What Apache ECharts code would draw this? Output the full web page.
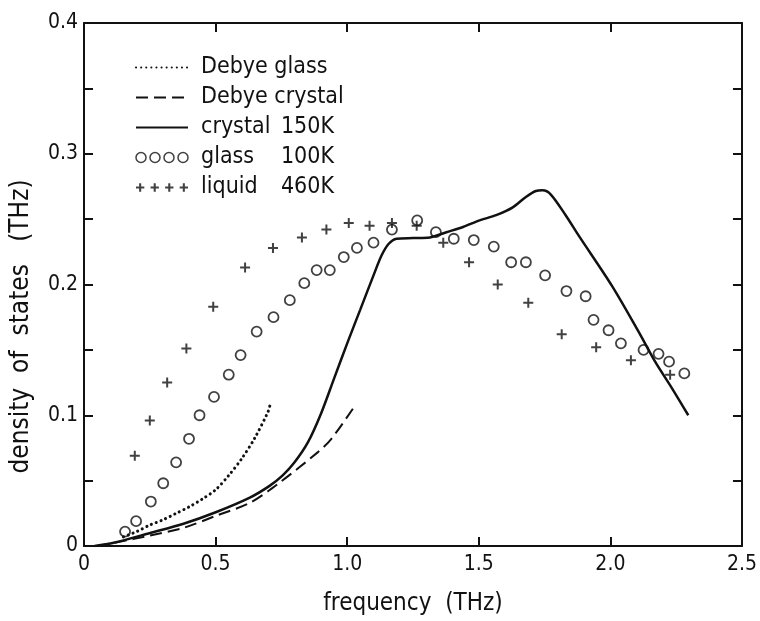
<!DOCTYPE html>
<html>
<head>
<meta charset="utf-8">
<script src="https://cdn.jsdelivr.net/npm/echarts@6/dist/echarts.min.js"></script>
<style>
  html, body { margin: 0; padding: 0; background: #fff; }
  #chart { width: 760px; height: 621px; }
</style>
</head>
<body>
<div id="chart"></div>
<script>
// curves and points (frequency in THz, density of states)
var debyeGlass = [[0.15, 0.007], [0.2, 0.011], [0.25, 0.016], [0.3, 0.020], [0.35, 0.025], [0.4, 0.030],
    [0.45, 0.036], [0.5, 0.043], [0.55, 0.054], [0.6, 0.067], [0.65, 0.083], [0.7, 0.103], [0.707, 0.108]];
var debyeCrystal = [[0.05, 0.0], [0.13, 0.003], [0.25, 0.008], [0.38, 0.014], [0.5, 0.023], [0.63, 0.033],
    [0.74, 0.048], [0.89, 0.072], [0.94, 0.082], [1.025, 0.106]];
var crystal150 = [[0.04, 0.0], [0.113, 0.0025], [0.252, 0.010], [0.378, 0.017], [0.503, 0.026], [0.63, 0.037],
    [0.705, 0.046], [0.755, 0.054], [0.8, 0.064], [0.85, 0.079], [0.9, 0.101], [0.95, 0.128], [1.0, 0.155],
    [1.05, 0.181], [1.1, 0.207], [1.13, 0.222], [1.157, 0.231], [1.188, 0.235], [1.251, 0.2355], [1.314, 0.236],
    [1.377, 0.240], [1.44, 0.244], [1.503, 0.249], [1.566, 0.253], [1.629, 0.259], [1.679, 0.267],
    [1.717, 0.2715], [1.742, 0.272], [1.773, 0.269], [1.83, 0.253], [1.881, 0.237], [2.006, 0.199],
    [2.107, 0.164], [2.17, 0.141], [2.233, 0.121], [2.296, 0.100]];
var glass100 = [[0.156, 0.011], [0.198, 0.019], [0.254, 0.034], [0.301, 0.048], [0.35, 0.064], [0.399, 0.082],
    [0.439, 0.100], [0.494, 0.114], [0.55, 0.131], [0.595, 0.146], [0.656, 0.164], [0.72, 0.175],
    [0.782, 0.188], [0.837, 0.201], [0.884, 0.211], [0.934, 0.211], [0.987, 0.221], [1.037, 0.228],
    [1.10, 0.232], [1.17, 0.242], [1.266, 0.249], [1.337, 0.240], [1.405, 0.235], [1.481, 0.234],
    [1.557, 0.229], [1.623, 0.217], [1.679, 0.217], [1.752, 0.207], [1.833, 0.195], [1.906, 0.191],
    [1.936, 0.173], [1.993, 0.165], [2.04, 0.155], [2.126, 0.150], [2.183, 0.147], [2.223, 0.141],
    [2.281, 0.132]];
var liquid460 = [[0.193, 0.069], [0.25, 0.096], [0.316, 0.125], [0.389, 0.151], [0.491, 0.183], [0.612, 0.213],
    [0.718, 0.228], [0.828, 0.236], [0.921, 0.242], [1.006, 0.247], [1.085, 0.245], [1.17, 0.247],
    [1.264, 0.245], [1.365, 0.232], [1.463, 0.217], [1.572, 0.200], [1.688, 0.186], [1.815, 0.162],
    [1.946, 0.152], [2.078, 0.142], [2.227, 0.131]];

var names = ['Debye glass', 'Debye crystal', 'crystal 150K', 'glass 100K', 'liquid 460K'];
var xTicks = ['0', '0.5', '1.0', '1.5', '2.0', '2.5'];
var yTicks = ['0', '0.1', '0.2', '0.3', '0.4'];

var font = 'DejaVu Sans Condensed, DejaVu Sans, sans-serif';
var ink = '#111';

var plusPath = 'path://M4,0H6V4H10V6H6V10H4V6H0V4H4Z';
function legendRow(shape) {
    var d = '';
    for (var k = 0; k < 4; k++) {
        var o = k * 14;
        if (shape === 'o') {
            d += 'M' + o + ',5a5,5 0 1,0 10,0a5,5 0 1,0 -10,0Z';
        } else {
            d += 'M' + (o + 4) + ',1H' + (o + 6) + 'V4H' + (o + 9) + 'V6H' + (o + 6) + 'V9H' + (o + 4) +
                'V6H' + (o + 1) + 'V4H' + (o + 4) + 'Z';
        }
    }
    return 'path://' + d;
}

function legendText(name) {
    var m = name.match(/^(\S+)\s+(\d+K)$/);
    if (name.indexOf('Debye') === 0 || !m) return name;
    return '{n|' + m[1] + '}{t|' + m[2] + '}';
}

var myChart = echarts.init(document.getElementById('chart'));

function frame(extra) {
    return Object.assign({
        axisLine: { onZero: false, lineStyle: { color: ink, width: 2 } },
        axisTick: { inside: true, length: 9, lineStyle: { color: ink, width: 2 } },
        splitLine: { show: false }
    }, extra);
}

var noDot = { opacity: 0 };

option = {
    animation: false,
    backgroundColor: '#fff',
    grid: { left: 82, right: 16, top: 23, bottom: 67 },
    legend: {
        orient: 'vertical',
        left: 130,
        top: 51,
        itemWidth: 52,
        itemHeight: 10,
        itemGap: 7,
        formatter: legendText,
        textStyle: {
            fontFamily: font, fontSize: 23, color: ink, padding: [0, 0, 0, 8],
            rich: {
                n: { fontFamily: font, fontSize: 23, color: ink, width: 80 },
                t: { fontFamily: font, fontSize: 23, color: ink, width: 53, align: 'right' }
            }
        },
        data: [
            { name: names[0], itemStyle: noDot },
            { name: names[1], itemStyle: noDot },
            { name: names[2], itemStyle: noDot },
            { name: names[3], icon: legendRow('o'), itemStyle: { color: 'rgba(0,0,0,0)', borderColor: ink, borderWidth: 1.5 } },
            { name: names[4], icon: legendRow('+'), itemStyle: { color: ink, borderWidth: 0 } }
        ]
    },
    xAxis: [
        frame({
            type: 'value', min: 0, max: 2.5, interval: 0.5,
            name: 'frequency  (THz)', nameLocation: 'middle', nameGap: 46,
            nameTextStyle: { fontFamily: font, fontSize: 24, color: ink },
            axisLabel: {
                fontFamily: font, fontSize: 21, color: ink, margin: 8,
                formatter: function (v) { return xTicks[Math.round(v / 0.5)]; }
            }
        }),
        frame({
            type: 'value', min: 0, max: 2.5, interval: 0.5, position: 'top',
            axisLabel: { show: false }
        })
    ],
    yAxis: [
        frame({
            type: 'value', min: 0, max: 0.4, interval: 0.05,
            name: 'density  of  states   (THz)', nameLocation: 'middle', nameGap: 50,
            nameTextStyle: { fontFamily: font, fontSize: 26, color: ink, padding: [0, 84, 0, 0] },
            axisLabel: {
                fontFamily: font, fontSize: 21, color: ink, margin: 6,
                formatter: function (v) {
                    var k = Math.round(v / 0.05);
                    return k % 2 === 0 ? yTicks[k / 2] : '';
                }
            }
        }),
        frame({
            type: 'value', min: 0, max: 0.4, interval: 0.05, position: 'right',
            axisLabel: { show: false }
        })
    ],
    series: [
        {
            name: names[0], type: 'line', data: debyeGlass, smooth: 0.3, symbol: 'none',
            itemStyle: { color: ink },
            lineStyle: { color: ink, width: 3, type: [0.1, 5], cap: 'round' }
        },
        {
            name: names[1], type: 'line', data: debyeCrystal, smooth: 0.3, symbol: 'none',
            itemStyle: { color: ink },
            lineStyle: { color: ink, width: 2, type: [12, 6] }
        },
        {
            name: names[2], type: 'line', data: crystal150, smooth: 0.3, symbol: 'none',
            itemStyle: { color: ink },
            lineStyle: { color: ink, width: 2.5 }
        },
        {
            name: names[3], type: 'scatter', data: glass100, symbol: 'circle', symbolSize: 10,
            itemStyle: { color: 'rgba(0,0,0,0)', borderColor: ink, borderWidth: 1.8 }
        },
        {
            name: names[4], type: 'scatter', data: liquid460, symbol: plusPath, symbolSize: 10,
            itemStyle: { color: ink }
        }
    ]
};

myChart.setOption(option);
</script>
</body>
</html>
